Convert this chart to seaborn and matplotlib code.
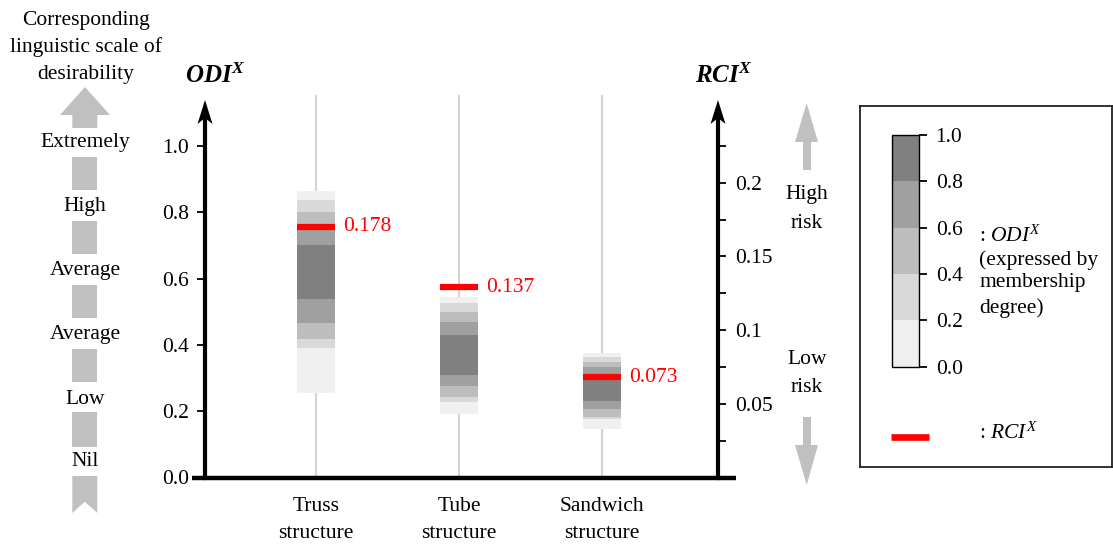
import numpy as np
import pandas as pd
import seaborn as sns
import matplotlib
matplotlib.use("Agg")
import matplotlib.pyplot as plt
from matplotlib.patches import Polygon, Rectangle
from matplotlib.lines import Line2D
from matplotlib.colors import ListedColormap, BoundaryNorm
from matplotlib.cm import ScalarMappable
from matplotlib.ticker import FormatStrFormatter, FixedLocator

# ---------------- data ----------------
structures = ["Truss\nstructure", "Tube\nstructure", "Sandwich\nstructure"]
membership_levels = [0.0, 0.2, 0.4, 0.6, 0.8]
level_colors = ["#f0f0f0", "#d9d9d9", "#bdbdbd", "#a0a0a0", "#808080"]

# alpha-cut intervals of ODI^X (lower / upper bound for each membership level)
truss_lo = [0.255, 0.391, 0.418, 0.466, 0.538]
truss_hi = [0.864, 0.837, 0.801, 0.756, 0.701]
tube_lo = [0.192, 0.227, 0.244, 0.276, 0.309]
tube_hi = [0.545, 0.527, 0.499, 0.469, 0.430]
sandwich_lo = [0.145, 0.176, 0.183, 0.207, 0.231]
sandwich_hi = [0.375, 0.363, 0.348, 0.332, 0.303]

rci_values = [0.178, 0.137, 0.073]
rci_marker_pos = [0.170, 0.129, 0.068]

odi_ticks = [0.0, 0.2, 0.4, 0.6, 0.8, 1.0]
rci_major_ticks = [0.05, 0.10, 0.15, 0.20]
rci_minor_ticks = [0.025, 0.075, 0.125, 0.175, 0.225]
cbar_ticks = [0.0, 0.2, 0.4, 0.6, 0.8, 1.0]
linguistic_labels = ["Extremely", "High", "Average", "Average", "Low", "Nil"]

# ---------------- style ----------------
sns.set_theme(style="white")
plt.rcParams["font.family"] = ["Liberation Serif", "DejaVu Serif"]
plt.rcParams["mathtext.fontset"] = "custom"
plt.rcParams["mathtext.rm"] = "Liberation Serif"
plt.rcParams["mathtext.it"] = "Liberation Serif:italic"
plt.rcParams["mathtext.bf"] = "Liberation Serif:bold"
plt.rcParams["mathtext.bfit"] = "Liberation Serif:bold:italic"
for k in ["text.color", "axes.labelcolor", "xtick.color", "ytick.color", "axes.edgecolor"]:
    plt.rcParams[k] = "black"

W, H = 1113, 546
FS = 15.5
fig = plt.figure(figsize=(W / 100, H / 100), dpi=100)


def fx(px):
    return px / W


def fy(py):
    return 1 - py / H


ax = fig.add_axes([fx(205), fy(477.5), fx(718) - fx(205), fy(94.6) - fy(477.5)])
ax.patch.set_alpha(0)

bar_w = 0.266
records = []
for name, lo, hi in zip(structures, [truss_lo, tube_lo, sandwich_lo],
                        [truss_hi, tube_hi, sandwich_hi]):
    for lv, l, h in zip(membership_levels, lo, hi):
        records.append({"structure": name, "level": lv, "lo": l, "hi": h, "span": h - l})
df = pd.DataFrame(records)

ax.vlines(range(len(structures)), 0, 1.2, color="#d4d4d4", lw=1.5, zorder=1)

for lv, col in zip(membership_levels, level_colors):
    sub = df[df["level"] == lv]
    sns.barplot(data=sub, x="structure", y="span", order=structures,
                bottom=sub["lo"].to_numpy(), color=col, saturation=1,
                width=bar_w, linewidth=0, errorbar=None, ax=ax, zorder=2)

ax.set_xlim(-0.776, 2.811)
ax.set_ylim(0, 1.155)
ax.set_xlabel("")
ax.set_ylabel("")
for s in ["top", "right", "bottom"]:
    ax.spines[s].set_visible(False)
ax.spines["left"].set_linewidth(3)
ax.spines["left"].set_bounds(0, 1.081)
ax.set_yticks(odi_ticks)
ax.yaxis.set_major_formatter(FormatStrFormatter("%.1f"))
ax.tick_params(axis="y", left=True, direction="out", length=5.5, width=1.3,
               labelsize=FS, pad=6)
ax.set_xticks(range(len(structures)))
ax.set_xticklabels(structures, fontsize=FS, linespacing=1.6)
ax.tick_params(axis="x", bottom=False, length=0, pad=14)
ax.plot([-0.867, 2.937], [0, 0], color="black", lw=3.2, clip_on=False,
        solid_capstyle="butt", zorder=5)

# right RCI axis
ax2 = ax.twinx()
ax2.set_ylim(0, 0.2598)
ax2.patch.set_alpha(0)
for s in ["top", "left", "bottom"]:
    ax2.spines[s].set_visible(False)
ax2.spines["right"].set_linewidth(3)
ax2.spines["right"].set_bounds(0, (478.7 - 119) / 1478.5)
ax2.yaxis.set_major_locator(FixedLocator(rci_major_ticks))
ax2.yaxis.set_minor_locator(FixedLocator(rci_minor_ticks))
ax2.yaxis.set_major_formatter(FormatStrFormatter("%g"))
ax2.tick_params(axis="y", which="both", right=True, direction="out", length=6,
                width=1.3, labelsize=FS, pad=6)
ax2.grid(False)

for i, (val, pos) in enumerate(zip(rci_values, rci_marker_pos)):
    ax2.hlines(pos, i - bar_w / 2, i + bar_w / 2, color="red", lw=4.5, zorder=6)
    ax2.annotate(f"{val:.3f}", xy=(i + bar_w / 2, pos), xytext=(6, 0),
                 textcoords="offset points", va="center", ha="left",
                 color="red", fontsize=FS)

# ---------------- decorations (pixel overlay) ----------------
dax = fig.add_axes([0, 0, 1, 1], zorder=10)
dax.set_xlim(0, W)
dax.set_ylim(H, 0)
dax.axis("off")

# axis arrow heads
for xc in (205, 718):
    dax.add_patch(Polygon([(xc - 7.5, 124), (xc, 100), (xc + 7.5, 124), (xc, 118)],
                          closed=True, color="black", lw=0))

fig.text(fx(215), fy(76), r"$\mathbfit{ODI}^{\mathbfit{X}}$", ha="center", va="center",
         fontsize=18)
fig.text(fx(724), fy(76), r"$\mathbfit{RCI}^{\mathbfit{X}}$", ha="center", va="center",
         fontsize=18)

arrow_gray = "#c0c0c0"
# left linguistic scale
for txt, yy in zip(["Corresponding", "linguistic scale of", "desirability"], [20, 47, 75]):
    dax.text(86, yy, txt, ha="center", va="center", fontsize=FS)
dax.add_patch(Polygon([(72.3, 128), (72.3, 115), (60, 115), (85, 87), (110, 115),
                       (97.3, 115), (97.3, 128)], closed=True, color=arrow_gray, lw=0))
for y0, y1 in [(157, 190), (221, 254), (285, 318), (349, 382), (412, 447)]:
    dax.add_patch(Rectangle((72.3, y0), 25, y1 - y0, color=arrow_gray, lw=0))
dax.add_patch(Polygon([(72.3, 476), (97.3, 476), (97.3, 513), (84.8, 501.7), (72.3, 513)],
                      closed=True, color=arrow_gray, lw=0))
for txt, yy in zip(linguistic_labels, [142, 206, 270, 334, 399, 462]):
    dax.text(85, yy, txt, ha="center", va="center", fontsize=FS)

# right risk arrows
dax.add_patch(Polygon([(803, 170), (803, 142), (795, 142), (806.7, 103), (818, 142),
                       (811, 142), (811, 170)], closed=True, color=arrow_gray, lw=0))
dax.add_patch(Polygon([(803, 417), (811, 417), (811, 445), (818, 445), (806.7, 485),
                       (795, 445), (803, 445)], closed=True, color=arrow_gray, lw=0))
for txt, yy in [("High", 195), ("risk", 223), ("Low", 360), ("risk", 387)]:
    dax.text(806.7, yy, txt, ha="center", va="center", fontsize=FS)

# ---------------- legend box ----------------
lax = fig.add_axes([fx(860), fy(466.7), fx(1111.7) - fx(860), fy(106) - fy(466.7)])
lax.set_xticks([])
lax.set_yticks([])
for s in lax.spines.values():
    s.set_visible(True)
    s.set_color("#222222")
    s.set_linewidth(1.3)

cax = fig.add_axes([fx(892), fy(366.7), fx(919) - fx(892), fy(135) - fy(366.7)])
cmap = ListedColormap(level_colors)
norm = BoundaryNorm([0, 0.2, 0.4, 0.6, 0.8, 1.0], cmap.N)
cb = fig.colorbar(ScalarMappable(norm=norm, cmap=cmap), cax=cax, ticks=cbar_ticks)
cb.outline.set_linewidth(1.0)
cb.outline.set_edgecolor("black")
cax.yaxis.set_major_formatter(FormatStrFormatter("%.1f"))
cax.tick_params(length=6, width=1.3, labelsize=FS, pad=6, right=True)

fig.text(fx(979), fy(236), r": $ODI^{X}$", ha="left", va="center", fontsize=FS)
for txt, yy in [("(expressed by", 260), ("membership", 283), ("degree)", 308)]:
    fig.text(fx(979), fy(yy), txt, ha="left", va="center", fontsize=FS)
fig.add_artist(Line2D([fx(891), fx(929)], [fy(436.7), fy(436.7)], color="red", lw=4.8,
                      transform=fig.transFigure, solid_capstyle="butt"))
fig.text(fx(979), fy(433), r": $RCI^{X}$", ha="left", va="center", fontsize=FS)

fig.savefig("out.png", dpi=100)
